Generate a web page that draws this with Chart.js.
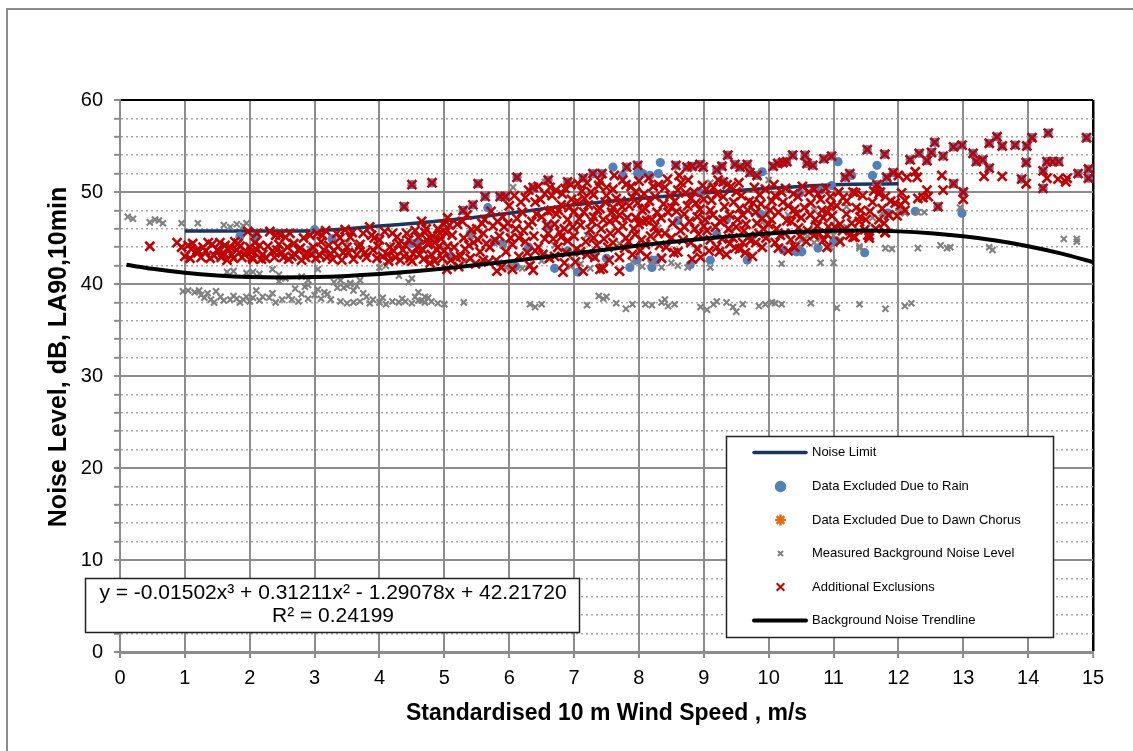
<!DOCTYPE html>
<html>
<head>
<meta charset="utf-8">
<script src="https://cdn.jsdelivr.net/npm/chart.js@4.4.1/dist/chart.umd.min.js"></script>
<style>html,body{margin:0;padding:0;background:#fff;}canvas{display:block;}</style>
</head>
<body>
<canvas id="c" width="1133" height="751"></canvas>
<script>
// ---------------- DATA ----------------
const xTitle = 'Standardised 10 m Wind Speed , m/s';
const yTitle = 'Noise Level, dB, LA90,10min';
const seriesNames = ['Noise Limit','Data Excluded Due to Rain','Data Excluded Due to Dawn Chorus','Measured Background Noise Level','Additional Exclusions','Background Noise Trendline'];
const trendEquation = 'y = -0.01502x\u00B3 + 0.31211x\u00B2 - 1.29078x + 42.21720';
const rSquared = 'R\u00B2 = 0.24199';

const noiseLimitX = [1,2,3,4,5,6,7,8,9,10,11,12];
const noiseLimitY = [45.75,45.75,45.8,46.3,46.9,47.7,48.6,49.3,49.9,50.4,50.8,50.9];

const trendX = [0.1,0.5,1,1.5,2,2.5,3,3.5,4,4.5,5,5.5,6,6.5,7,7.5,8,8.5,9,9.5,10,10.5,11,11.5,12,12.5,13,13.5,14,14.5,15];
const trendY = [42.09,41.65,41.22,40.93,40.76,40.71,40.75,40.88,41.09,41.36,41.69,42.06,42.46,42.89,43.32,43.76,44.18,44.57,44.93,45.24,45.50,45.69,45.79,45.81,45.72,45.51,45.18,44.72,44.11,43.33,42.39];

const rainOnly = [[1.85,45.2],[2.1,45.2],[2.96,43.7],[3.27,44.9],[3.0,45.9],[4.5,44.4],[4.6,44.4],[4.86,44.9],[5.9,44.4],[5.4,45.5],[5.78,44.6],[5.67,48.3],[7.6,52.7],[7.75,51.8],[8.33,53.2],[7.97,42.6],[8.2,42.6],[7.86,41.8],[7.06,41.3],[8.17,51.8],[7.98,52.0],[8.06,52.0],[8.79,42.1],[9.1,42.6],[9.67,42.6],[11.07,53.3],[11.28,51.8],[11.6,51.8],[10.43,43.5],[10.48,43.7],[10.76,43.9],[11.48,43.4],[10.22,43.7],[9.9,52.2],[10.97,50.7],[10.8,50.2],[9.35,47.0],[9.87,47.6],[10.48,49.9],[11.67,52.9],[12.26,47.9],[12.98,47.7],[11.0,44.6],[10.51,43.5],[11.84,47.7],[8.3,52.0],[8.27,42.6],[8.2,41.8],[8.94,49.9],[6.3,44.0],[6.9,43.6],[7.3,43.0],[6.6,46.3],[8.6,46.9],[9.2,45.4],[5.1,43.0],[7.5,42.8],[6.1,41.9],[6.7,41.7]];

const dawnChorus = [];

const measured = [[0.12,47.3],[0.2,47.1],[0.46,46.7],[0.54,47.0],[0.6,46.9],[0.66,46.6],[0.95,46.6],[1.2,46.6],[1.6,46.4],[1.7,46.2],[1.8,46.5],[1.9,46.3],[1.95,46.6],
[0.97,39.2],[1.05,39.3],[1.15,39.1],[1.22,39.3],[1.3,38.5],[1.35,39.0],[1.4,38.3],[1.48,39.2],[1.55,38.6],[1.6,38.2],[1.7,38.3],[1.8,38.4],[1.85,38.0],[1.9,38.3],[1.95,38.6],[2.0,38.1],[2.05,38.5],[2.1,39.3],[2.15,38.2],[2.3,38.5],[2.35,39.0],[2.5,38.3],[2.6,38.7],[2.7,39.5],[2.75,38.1],[2.8,38.9],[2.85,39.7],[2.9,38.4],[3.0,38.8],[3.05,39.4],[3.1,38.4],[3.2,38.9],[3.35,39.6],[3.4,38.1],[3.5,37.9],[3.6,38.0],[3.7,38.1],[3.75,39.0],[3.85,37.9],[3.9,38.3],[4.0,38.0],[4.1,37.8],[4.2,38.1],[4.3,38.0],[4.35,38.4],[4.5,37.9],[4.6,38.2],[4.7,38.0],[4.8,38.1],[4.9,37.9],[4.65,38.2],[5.0,37.8],[5.3,38.0],
[1.25,38.8],[1.45,38.0],[1.75,38.7],[2.2,38.6],[2.4,38.0],[2.65,38.3],[3.15,39.1],[3.25,38.3],[3.8,38.6],[4.05,38.5],[4.4,38.1],[4.55,38.6],[4.75,38.5],
[3.3,40.2],[3.45,39.6],[3.55,40.0],[3.6,39.3],[3.65,39.8],[2.45,40.3],[2.9,39.9],[4.6,39.1],[4.7,38.6],
[6.32,37.8],[6.4,37.5],[6.5,37.8],[7.2,37.7],[7.38,38.7],[7.45,38.4],[7.5,38.6],[7.65,37.9],[7.8,37.3],[7.9,37.8],[8.1,37.8],[8.2,37.7],[8.35,38.0],[8.4,38.3],[8.45,37.6],[8.55,37.8],[8.95,37.5],[9.05,37.2],[9.15,37.8],[9.2,38.1],[9.35,38.0],[9.45,37.5],[9.5,37.0],[9.6,37.8],[9.85,37.6],[9.95,37.8],[10.05,38.0],[10.1,37.9],[10.2,37.8],[10.65,37.9],[11.05,37.4],[11.4,37.8],[11.8,37.3],[12.1,37.6],[12.2,37.9],
[1.65,41.3],[1.75,41.4],[1.95,41.2],[2.05,41.3],[2.15,41.1],[2.35,41.6],[2.45,41.0],[2.55,40.6],[2.8,40.8],[2.9,40.4],[3.05,41.6],[3.4,40.4],[3.5,39.8],[3.55,40.1],[3.7,40.4],[4.0,41.8],[4.1,42.0],[4.3,40.9],[4.45,40.2],[4.5,40.6],
[5.85,42.3],[5.95,41.8],[6.05,42.0],[6.2,41.7],[6.3,42.1],[6.95,41.9],[7.1,42.2],[7.25,41.7],[7.4,41.9],[7.9,42.4],[8.05,41.9],[8.2,42.3],[8.35,41.8],[8.5,42.3],[8.6,42.0],[8.75,41.8],[9.1,41.8],[10.2,42.2],[10.45,44.3],[10.55,44.9],[10.95,44.0],[11.4,43.9],
[10.5,44.8],[10.6,45.2],[10.7,44.5],[10.8,44.9],[11.0,45.3],[11.1,44.8],[11.4,44.1],[11.8,43.9],[11.9,43.8],[12.3,43.9],[12.8,44.0],[12.65,44.2],[12.75,43.9],[13.4,44.0],[13.45,43.7],[14.55,44.9],[14.75,44.9],[14.75,44.6],[10.8,42.3],[11.0,42.3],
[6.06,50.5],[6.55,51.1],[9.1,51.0],[10.0,51.3],[9.97,48.0],[10.7,48.0],[11.2,48.4],[11.75,47.7],[12.0,48.3],[12.0,47.9],[12.1,47.7],[12.3,47.8],[12.4,47.8],[12.6,48.3],[12.95,48.3],
[2.93,43.8],[3.5,44.5],[4.2,44.2],[5.4,45.2],[5.9,44.2],[6.7,44.2],[7.2,45.3],[7.7,44.4],[8.3,46.1],[8.9,44.0],[9.4,45.9],[9.9,46.7],[10.3,47.5],[10.7,46.6],[11.2,46.2],[11.6,47.2],[5.3,42.5],[6.5,42.5]];

const exclusionsRain = [[4.5,50.8],[4.81,51.0],[5.52,50.9],[4.38,48.4],[6.12,51.6],[5.63,49.5],[5.86,49.5],[5.94,49.5],[5.29,48.0],[5.44,48.6],[6.37,50.5],[6.6,51.3],[6.9,51.1],[7.14,51.5],[7.29,52.0],[7.43,52.0],[7.81,52.7],[7.98,52.9],
[8.57,52.9],[8.74,52.7],[8.82,52.8],[8.94,53.0],[8.99,52.7],[9.2,52.4],[9.28,52.8],[9.37,54.0],[9.48,53.0],[9.56,52.7],[9.67,53.0],[9.3,51.1],[9.71,52.1],[9.82,51.8],[10.07,52.8],[10.14,53.1],[10.22,53.2],[10.28,53.3],[10.37,54.0],[10.56,54.0],[10.59,53.1],[10.68,52.9],[10.85,53.6],[10.97,53.9],[11.52,54.6],[11.79,54.1],[11.18,51.6],[11.25,52.0],[11.67,50.8],[11.82,51.6],[11.92,52.1],[12.18,53.5],[12.32,54.2],[12.44,53.4],[12.51,54.3],[12.56,55.4],[12.69,53.9],[12.85,54.9],[12.98,55.1],[13.15,54.2],[13.2,53.3],[13.3,53.5],[13.4,52.6],[13.4,55.3],[13.52,56.0],[13.6,55.0],[13.8,55.1],[13.98,55.0],[14.06,55.9],[14.31,56.4],[13.97,53.2],[13.9,51.4],[14.23,52.3],[14.29,53.3],[14.38,53.3],[14.47,53.3],[14.23,50.4],[14.77,52.0],[14.9,55.9],[14.93,52.5],[14.93,51.5],[13.0,50.0],[12.85,50.9],[12.61,48.4],[11.72,50.0]];

const exclusionsOnly = [[0.46,44.1],[0.88,44.5],[0.95,44.0],[1.05,44.2],[1.08,42.8],[1.19,43.7],[1.2,43.4],[1.28,44.0],[1.36,44.5],[1.39,42.8],[1.5,43.7],[1.54,44.5],[1.59,43.4],[1.65,42.6],[1.7,44.0],[1.72,43.2],[1.77,44.6],[1.8,43.7],[1.88,42.9],[1.95,43.5],[2.0,44.0],[2.04,42.9],[2.11,43.7],[2.11,45.5],[1.97,45.7],[2.05,42.7],[2.2,43.2],[2.31,45.7],[2.42,43.7],[2.47,45.3],[2.52,42.9],[2.62,45.5],[2.7,43.2],[2.75,43.7],[2.83,45.0],[2.88,43.4],[2.93,45.3],[3.04,45.5],[3.14,43.7],[3.19,42.9],[3.34,45.5],[3.39,45.0],[3.44,43.4],[3.47,45.9],[3.55,45.1],[3.65,43.2],[3.75,45.5],[3.85,46.2],[3.9,43.7],[3.96,42.8],[4.0,44.8],[4.12,43.2],[4.16,44.0],[4.27,45.1],[4.32,42.6],[4.36,43.7],[4.42,45.5],[4.47,42.8],[4.58,44.0],[4.62,43.2],[4.73,44.8],[4.78,42.3],[4.89,43.7],[4.93,45.5],
[1.12,44.4],[1.45,43.1],[1.62,44.2],[1.85,44.1],[2.15,44.2],[2.25,42.8],[2.35,43.6],[2.58,44.0],[2.65,43.0],[2.8,42.6],[2.98,44.0],[3.08,43.1],[3.22,44.2],[3.28,42.7],[3.5,44.0],[3.6,42.7],[3.7,44.3],[3.8,42.9],[3.92,45.0],[4.05,43.0],[4.2,45.5],[4.25,42.9],[4.4,44.2],[4.52,43.3],[4.55,45.8],[4.68,42.7],[4.85,44.5],[4.97,42.8],[3.12,45.3],[3.3,43.6],[2.4,45.3],[2.55,45.1],
[1.0,43.0],[1.1,43.8],[1.25,42.9],[1.32,43.6],[1.42,44.3],[1.56,42.9],[1.68,43.7],[1.75,42.8],[1.82,44.4],[1.92,43.2],[2.02,43.5],[2.08,44.5],[2.18,42.7],[2.28,44.1],[2.38,42.9],[2.45,44.3],[2.5,43.4],[2.6,42.7],[2.68,44.4],[2.78,43.9],[2.86,42.9],[2.95,43.2],[3.02,42.8],[3.1,44.6],[3.17,45.8],[3.25,43.3],[3.36,44.1],[3.42,42.6],[3.52,43.4],[3.58,45.6],[3.68,44.0],[3.78,43.4],[3.88,45.3],[3.98,44.1],[4.08,45.7],[4.14,42.5],[4.22,43.6],[4.3,44.4],[4.38,43.0],[4.45,44.8],[4.5,42.5],[4.6,45.1],[4.66,43.8],[4.72,46.0],[4.82,45.2],[4.92,44.1],[4.99,46.5],
[4.65,46.8],[4.7,45.6],[4.75,44.3],[4.8,43.2],[4.85,42.5],[4.9,46.0],[4.95,44.9],[5.0,43.6],[5.05,47.2],[5.1,42.6],[5.12,45.3],[5.15,44.0],[5.2,46.5],[5.25,43.0],[5.3,45.0],[5.35,47.5],[5.4,42.8],[5.45,44.5],[5.5,46.0],[5.55,43.5],[5.6,45.5],[5.62,47.0],[5.7,44.0],[5.75,46.3],[5.8,42.6],[5.85,45.2],[5.9,47.3],[5.95,43.5],[6.0,48.5],[6.08,49.6],[6.1,46.0],[6.15,43.0],[6.2,47.8],[6.25,44.6],[6.3,50.2],[6.32,42.0],[6.35,46.8],[6.4,48.9],[6.45,44.0],[6.5,47.3],[6.55,49.8],[6.6,45.5],[6.62,42.8],[6.65,48.0],
[5.05,44.1],[5.22,41.9],[5.28,46.8],[5.38,44.2],[5.48,42.2],[5.58,46.6],[5.68,42.4],[5.72,47.9],[5.78,44.8],[5.88,41.8],[5.92,46.2],[6.02,45.0],[6.05,41.6],[6.12,47.1],[6.18,48.9],[6.22,45.8],[6.28,43.4],[6.38,45.2],[6.42,47.6],[6.48,49.2],[6.52,43.2],[6.58,46.4],[6.63,50.5],
[5.02,45.6],[5.08,46.4],[5.18,42.9],[5.32,43.8],[5.42,45.9],[5.52,44.8],[5.6,42.6],[5.65,44.4],[5.82,46.8],[5.98,46.6],[6.05,44.3],[6.15,45.0],[6.25,49.4],[6.3,46.4],[6.4,43.6],[6.45,50.6],[6.55,44.9],[6.6,47.9],[6.66,49.6],
[6.7,46.5],[6.72,50.2],[6.75,44.0],[6.8,48.6],[6.85,42.3],[6.9,47.0],[6.95,50.8],[7.0,45.2],[7.05,49.0],[7.1,43.5],[7.15,47.8],[7.2,51.0],[7.25,45.9],[7.3,49.7],[7.35,44.2],[7.4,48.2],[7.45,41.7],[7.5,50.5],[7.55,46.8],[7.6,44.5],[7.65,49.3],[7.7,47.5],[7.75,51.3],[7.8,45.0],[7.85,48.5],[7.9,43.2],[7.95,50.0],[8.0,46.5],[8.05,48.0],[8.1,44.3],[8.15,51.5],[8.2,47.0],[8.25,49.5],[8.3,45.5],[8.35,42.8],
[6.68,44.9],[6.73,47.6],[6.78,45.6],[6.82,49.8],[6.88,43.4],[6.92,48.3],[6.98,46.2],[7.02,42.4],[7.08,47.1],[7.12,50.1],[7.18,44.6],[7.22,48.6],[7.28,46.8],[7.32,42.9],[7.38,50.7],[7.42,46.0],[7.48,48.9],[7.52,44.0],[7.58,47.8],[7.62,51.8],[7.68,45.8],[7.72,49.0],[7.78,43.9],[7.82,47.2],[7.88,50.6],[7.92,46.0],[7.98,48.8],[8.02,43.6],[8.08,49.8],[8.12,46.9],[8.18,45.2],[8.22,50.6],[8.28,47.8],[8.32,44.2],[8.38,48.7],[7.3,47.3],[7.6,48.3],[7.75,46.3],[7.95,47.2],[8.1,48.2],[7.45,47.0],[7.0,47.9],[6.85,46.0],
[6.7,43.0],[6.76,48.0],[6.8,45.1],[6.86,50.4],[6.9,44.7],[6.96,49.2],[7.04,43.8],[7.06,50.9],[7.1,46.4],[7.16,49.3],[7.2,43.2],[7.26,50.0],[7.3,45.0],[7.36,48.0],[7.4,51.2],[7.46,44.9],[7.5,49.6],[7.54,42.6],[7.56,45.5],[7.6,50.3],[7.64,47.0],[7.7,42.9],[7.74,48.4],[7.8,50.8],[7.84,44.6],[7.9,49.4],[7.94,45.4],[8.0,51.2],[8.04,44.8],[8.06,46.8],[8.12,43.0],[8.16,49.0],[8.24,46.2],[8.3,50.8],[8.34,47.2],
[8.4,50.5],[8.45,47.8],[8.5,45.0],[8.55,49.0],[8.6,43.5],[8.65,51.0],[8.7,46.2],[8.75,48.5],[8.8,44.5],[8.85,50.0],[8.9,47.3],[8.95,42.9],[9.0,49.2],[9.05,45.8],[9.1,48.0],[9.15,50.5],[9.2,44.0],[9.25,46.8],[9.3,49.5],[9.35,43.2],[9.4,47.5],[9.45,45.0],[9.5,50.0],[9.55,48.2],[9.6,44.5],[9.65,46.5],[9.7,49.0],[9.75,43.0],[9.8,47.8],[9.85,45.5],[9.9,44.0],[9.95,50.3],
[8.42,44.0],[8.48,49.6],[8.52,46.6],[8.58,47.9],[8.62,51.8],[8.68,44.8],[8.72,49.9],[8.78,46.8],[8.82,42.7],[8.88,48.8],[8.92,45.4],[8.98,50.7],[9.02,47.0],[9.08,43.6],[9.12,49.1],[9.18,46.2],[9.22,51.3],[9.28,44.9],[9.32,48.4],[9.38,46.0],[9.42,50.6],[9.48,43.9],[9.52,47.0],[9.58,49.6],[9.62,45.8],[9.68,48.0],[9.72,44.7],[9.78,50.5],[9.82,46.6],[9.88,48.7],[9.92,46.0],
[8.4,45.5],[8.44,51.4],[8.5,48.3],[8.54,43.4],[8.6,50.2],[8.64,45.8],[8.7,47.6],[8.76,51.3],[8.8,49.3],[8.86,46.0],[8.9,43.8],[8.94,48.1],[9.0,46.3],[9.04,50.3],[9.1,44.8],[9.14,47.5],[9.2,49.8],[9.24,43.5],[9.3,47.0],[9.36,50.8],[9.4,44.4],[9.46,48.9],[9.5,46.2],[9.54,51.0],[9.6,47.5],[9.64,43.4],[9.7,45.2],[9.76,48.8],[9.8,44.5],[9.86,49.7],[9.9,47.1],[9.96,45.0],
[10.0,46.5],[10.05,49.0],[10.1,44.5],[10.15,47.8],[10.2,50.0],[10.25,45.5],[10.3,48.5],[10.35,46.8],[10.4,44.0],[10.45,49.5],[10.5,47.2],[10.6,45.8],[10.65,48.8],[10.7,50.3],[10.75,46.3],[10.8,49.2],[10.85,44.8],[10.9,47.8],[10.95,49.5],[11.05,48.5],[11.1,46.5],[11.15,49.4],[11.2,47.6],[11.25,45.3],[11.3,50.0],[11.35,48.3],[11.4,46.8],[11.45,49.6],[11.5,47.0],[11.55,45.0],[11.6,48.9],[11.65,46.0],[11.7,49.8],[11.75,48.2],[11.8,49.5],[11.85,47.5],[11.95,48.8],[12.05,49.9],[12.1,48.0],[9.55,43.8],[10.15,43.9],[10.3,43.6],[10.9,44.0],[11.1,44.6],[11.3,45.1],[11.55,45.3],[11.8,45.6],[11.41,47.3],[11.33,45.1],[11.53,45.3],[11.79,45.6],
[10.02,48.0],[10.08,50.8],[10.12,46.0],[10.22,48.9],[10.28,46.9],[10.38,49.8],[10.42,47.6],[10.48,45.2],[10.55,48.3],[10.62,50.0],[10.72,47.0],[10.78,45.5],[10.82,48.0],[10.88,50.4],[10.92,46.2],[10.98,47.4],
[10.04,47.0],[10.1,49.6],[10.18,45.3],[10.26,50.4],[10.34,44.8],[10.4,48.1],[10.46,46.1],[10.52,50.6],[10.58,44.6],[10.64,47.5],[10.7,45.3],[10.76,49.8],[10.84,47.2],[10.9,45.4],[10.96,48.6],[11.02,46.2],[11.08,50.0],[11.14,45.8],[11.2,49.0],[11.28,46.6],[11.34,49.9],[11.42,48.0],[11.48,45.9],[11.56,47.9],[11.62,50.1],[11.7,47.0],[11.78,46.6],[11.88,49.0],[11.98,47.4],[12.04,48.6],
[12.67,51.8],[13.32,51.7],[13.6,51.7],[13.97,50.9],[14.29,51.5],[14.46,51.4],[14.6,51.5],[14.58,51.1],[12.1,49.1],[12.3,49.3],[12.38,49.4],[12.44,50.2],[12.46,49.5],[12.69,50.2],[13.0,49.2],[12.0,51.8],[12.13,51.6],[12.26,52.2],[12.29,51.6],
[5.04,41.6],[5.81,41.4],[6.37,41.5],[6.83,41.3],[7.14,41.4],[7.4,41.6],[7.7,41.4]];

const xTicks = {min:0, max:15, step:1};
const yTicks = {min:0, max:60, step:2, labelEvery:10};

// ---------------- BUILD ----------------
const pts = a => a.map(p => ({x:p[0], y:p[1]}));
const zipXY = (xs, ys) => xs.map((x,i) => ({x:x, y:ys[i]}));
const FONT = '"Liberation Sans", Arial, sans-serif';

const datasets = [
  {label:seriesNames[0], data:zipXY(noiseLimitX, noiseLimitY), showLine:true, borderColor:'#17375e', borderWidth:3.5, pointRadius:0, cubicInterpolationMode:'monotone', order:6},
  {label:seriesNames[1], data:pts(rainOnly.concat(exclusionsRain)), pointStyle:'circle', pointRadius:4.6, pointBackgroundColor:'#4f81bd', pointBorderColor:'#4f81bd', pointBorderWidth:0, order:5},
  {label:seriesNames[2], data:pts(dawnChorus), pointStyle:'star', pointRadius:5, pointBorderColor:'#e46c0a', pointBackgroundColor:'#e46c0a', pointBorderWidth:2.5, order:4},
  {label:seriesNames[3], data:pts(measured), pointStyle:'crossRot', pointRadius:4.3, pointBorderColor:'#808080', pointBackgroundColor:'#808080', pointBorderWidth:2.1, order:3},
  {label:seriesNames[4], data:pts(exclusionsOnly.concat(exclusionsRain)), pointStyle:'crossRot', pointRadius:6.4, pointBorderColor:'#c00000', pointBackgroundColor:'#c00000', pointBorderWidth:2.6, order:2},
  {label:seriesNames[5], data:zipXY(trendX, trendY), showLine:true, borderColor:'#000000', borderWidth:4, pointRadius:0, cubicInterpolationMode:'monotone', order:1}
];

const pageBorder = {
  id:'pageBorder',
  beforeDraw(chart){
    const c = chart.ctx;
    c.save();
    c.fillStyle = '#fff';
    c.fillRect(0,0,chart.width,chart.height);
    c.strokeStyle = '#8c8c8c';
    c.lineWidth = 2;
    c.strokeRect(7,9,1200,800);
    c.restore();
  }
};

const yTitlePlugin = {
  id:'yTitlePlugin',
  afterDraw(chart){
    const c = chart.ctx;
    c.save();
    c.translate(59, 357);
    c.rotate(-Math.PI/2);
    c.fillStyle = '#000';
    c.font = 'bold 25px ' + FONT;
    c.textAlign = 'center';
    c.textBaseline = 'middle';
    c.fillText(yTitle, 0, 0);
    c.restore();
  }
};

const boxLegend = {
  id:'boxLegend',
  afterDraw(chart){
    const c = chart.ctx;
    c.save();
    c.fillStyle = '#fff';
    c.fillRect(726,436,328,202);
    c.strokeStyle = '#222';
    c.lineWidth = 1.5;
    c.strokeRect(726.5,436.5,327,201);
    const rows = [452.5,486.5,520,553.5,587,620.5];
    chart.data.datasets.forEach((ds,i) => {
      const y = rows[i];
      if (ds.showLine) {
        c.strokeStyle = ds.borderColor;
        c.lineWidth = ds.borderWidth;
        c.lineCap = 'round';
        c.beginPath(); c.moveTo(754,y); c.lineTo(806,y); c.stroke();
        c.lineCap = 'butt';
      } else {
        c.strokeStyle = ds.pointBorderColor;
        c.fillStyle = ds.pointBackgroundColor;
        c.lineWidth = ds.pointStyle === 'crossRot' ? 2 : ds.pointBorderWidth;
        const r = ds.pointStyle === 'circle' ? 4 : (ds.pointStyle === 'crossRot' && ds.pointRadius < 5 ? 3.6 : 5.4);
        Chart.helpers.drawPoint(c, {pointStyle:ds.pointStyle, radius:r, borderWidth:c.lineWidth, rotation:0}, 780.5, y);
      }
      c.fillStyle = '#000';
      c.font = '13px ' + FONT;
      c.textAlign = 'left';
      c.textBaseline = 'middle';
      c.fillText(ds.label, 812, y);
    });
    c.restore();
  }
};

const eqBox = {
  id:'eqBox',
  afterDraw(chart){
    const c = chart.ctx;
    c.save();
    c.fillStyle = '#fff';
    c.fillRect(85,578,495,54);
    c.strokeStyle = '#222';
    c.lineWidth = 1.5;
    c.strokeRect(85.5,578.5,494,54);
    c.fillStyle = '#000';
    c.font = '21px ' + FONT;
    c.textAlign = 'center';
    c.textBaseline = 'middle';
    c.fillText(trendEquation, 333, 593);
    c.fillText(rSquared, 333, 616);
    c.restore();
  }
};

const tickVal = c => (c && c.tick) ? c.tick.value : null;

new Chart(document.getElementById('c'), {
  type:'scatter',
  data:{datasets:datasets},
  plugins:[pageBorder, yTitlePlugin, boxLegend, eqBox],
  options:{
    responsive:false,
    animation:false,
    events:[],
    layout:{padding:{left:0, right:40, top:100, bottom:0}},
    plugins:{legend:{display:false}, tooltip:{enabled:false}},
    scales:{
      x:{
        type:'linear', min:xTicks.min, max:xTicks.max,
        ticks:{stepSize:xTicks.step, autoSkip:false, color:'#000', padding:8, maxRotation:0, font:{family:FONT, size:20}},
        grid:{
          color: c => tickVal(c) === xTicks.max ? '#000' : '#8c8c8c',
          lineWidth: c => tickVal(c) === xTicks.max ? 2.5 : 2,
          tickLength:6, tickColor:'#8c8c8c', tickWidth:2
        },
        border:{color:'#8c8c8c', width:3},
        title:{display:true, text:xTitle, color:'#000', font:{family:FONT, size:23, weight:'bold'}, padding:{top:0, bottom:24}},
        afterFit: s => { s.height = 99; }
      },
      y:{
        type:'linear', min:yTicks.min, max:yTicks.max,
        ticks:{stepSize:yTicks.step, autoSkip:false, color:'#000', padding:11, font:{family:FONT, size:20},
          callback: v => (v % yTicks.labelEvery === 0 ? String(v) : '')},
        grid:{
          color: c => { const v = tickVal(c); return v === yTicks.max ? '#000' : (v % yTicks.labelEvery === 0 ? '#8c8c8c' : '#a6a6a6'); },
          lineWidth: c => { const v = tickVal(c); return v === yTicks.max ? 2 : (v % yTicks.labelEvery === 0 ? 2 : 1.6); },
          tickLength:6, tickColor:'#8c8c8c', tickWidth:2
        },
        border:{color:'#8c8c8c', width:2, dash: c => { const v = tickVal(c); return (v === null || v % yTicks.labelEvery === 0) ? [] : [2,3]; }},
        title:{display:false},
        afterFit: s => { s.width = 120; }
      }
    }
  }
});
</script>
</body>
</html>
